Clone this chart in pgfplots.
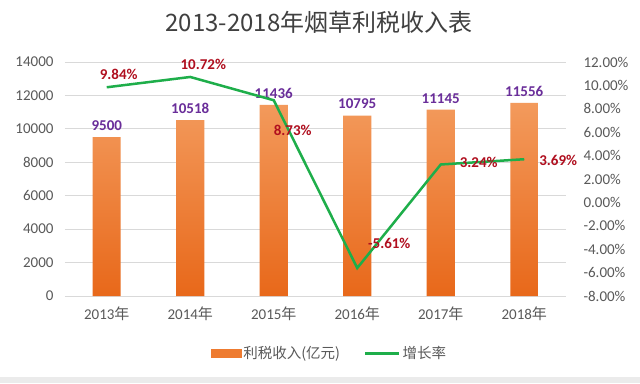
\documentclass[border=0pt]{standalone}
\usepackage{pgfplots}
\pgfplotsset{compat=1.18}
\usepackage{pgfplotstable}
\usepackage{fontspec}
\setmainfont{Carlito}
\newfontfamily\cjk{Noto Sans CJK SC}
\definecolor{gridc}{HTML}{D9D9D9}
\definecolor{tickc}{HTML}{595959}
\definecolor{bartop}{HTML}{F39A5C}
\definecolor{barbot}{HTML}{E8681A}
\definecolor{barmid}{HTML}{EE7B30}
\definecolor{linec}{HTML}{1EAE4A}
\definecolor{valc}{HTML}{6A2E9A}
\definecolor{pctc}{HTML}{B00F1F}
\definecolor{titlec}{HTML}{404040}

\pgfplotstableread{
x rev
0 9500
1 10518
2 11436
3 10795
4 11145
5 11556
}\revtable

\pgfplotstableread{
x rate dx dy
0 9.84 12 13
1 10.72 13 13
2 8.73 19 -30
3 -5.61 32 25
4 3.24 38 2
5 3.69 34 -1
}\ratetable

\begin{document}
\begin{tikzpicture}[x=1pt,y=1pt]
\path[use as bounding box] (0,0) rectangle (640,383);
\fill[white] (0,0) rectangle (640,383);
\fill[gray!16] (0,0) rectangle (640,6);
\node[text=titlec, font=\cjk\fontsize{24}{28}\selectfont] at (319,361) {2013-2018年烟草利税收入表};

\begin{axis}[
  at={(65pt,87pt)}, anchor=south west,
  scale only axis, width=501pt, height=234pt,
  xmin=-0.5, xmax=5.5, ymin=0, ymax=14000,
  ytick distance=2000,
  xtick={0,...,5},
  xticklabels={2013{\cjk 年},2014{\cjk 年},2015{\cjk 年},2016{\cjk 年},2017{\cjk 年},2018{\cjk 年}},
  axis line style={draw=none},
  major tick length=0pt,
  ymajorgrids, grid style={gridc, line width=0.8pt},
  tick label style={text=tickc, font=\fontsize{15}{17}\selectfont},
  xticklabel style={yshift=-7pt},
  yticklabel style={xshift=-8pt},
  /pgf/number format/assume math mode=true,
  scaled y ticks=false,
  yticklabel={\pgfmathprintnumber[fixed,1000 sep={}]{\tick}},
  legend style={at={(0.528,-0.245)}, anchor=center, draw=none, fill=none,
    legend columns=2, font=\cjk\fontsize{14.5}{16}\selectfont, text=tickc,
    /tikz/every even column/.append style={column sep=22pt}},
  clip=false,
]
\addplot[ybar, bar width=28pt, draw=none, top color=bartop, bottom color=barbot, forget plot]
  table[x=x,y=rev] {\revtable};
\addlegendimage{legend image code/.code={\fill[barmid] (0pt,-4pt) rectangle (30pt,4pt);}}
\addlegendentry{利税收入(亿元)}
\addlegendimage{legend image code/.code={\draw[linec,line width=2.5pt] (0pt,0pt) -- (34pt,0pt);}}
\addlegendentry{增长率}
\addplot[draw=none, mark=none, forget plot, nodes near coords,
  point meta=y,
  nodes near coords={\pgfmathprintnumber[fixed,1000 sep={}]{\pgfplotspointmeta}},
  every node near coord/.append style={text=valc, font=\bfseries\fontsize{15}{17}\selectfont, anchor=south, yshift=3pt}]
  table[x=x,y=rev] {\revtable};
\end{axis}

\begin{axis}[
  at={(65pt,87pt)}, anchor=south west,
  scale only axis, width=501pt, height=234pt,
  xmin=-0.5, xmax=5.5, ymin=-8, ymax=12,
  ytick={-8,-6,...,12},
  axis y line*=right, axis x line=none,
  axis line style={draw=none},
  major tick length=0pt,
  tick label style={text=tickc, font=\fontsize{15}{17}\selectfont},
  yticklabel style={anchor=west, xshift=14pt},
  /pgf/number format/assume math mode=true,
  yticklabel={\pgfmathprintnumber[fixed,fixed zerofill,precision=2]{\tick}\%},
  clip=false,
]
\addplot[linec, line width=2.5pt, mark=none, nodes near coords,
  point meta=y,
  visualization depends on={\thisrow{dx} \as \dx},
  visualization depends on={\thisrow{dy} \as \dy},
  nodes near coords={\pgfmathprintnumber[fixed,fixed zerofill,precision=2]{\pgfplotspointmeta}\%},
  every node near coord/.append style={text=pctc, font=\bfseries\fontsize{15}{17}\selectfont, anchor=center, xshift=\dx pt, yshift=\dy pt}]
  table[x=x,y=rate] {\ratetable};
\end{axis}
\end{tikzpicture}
\end{document}
